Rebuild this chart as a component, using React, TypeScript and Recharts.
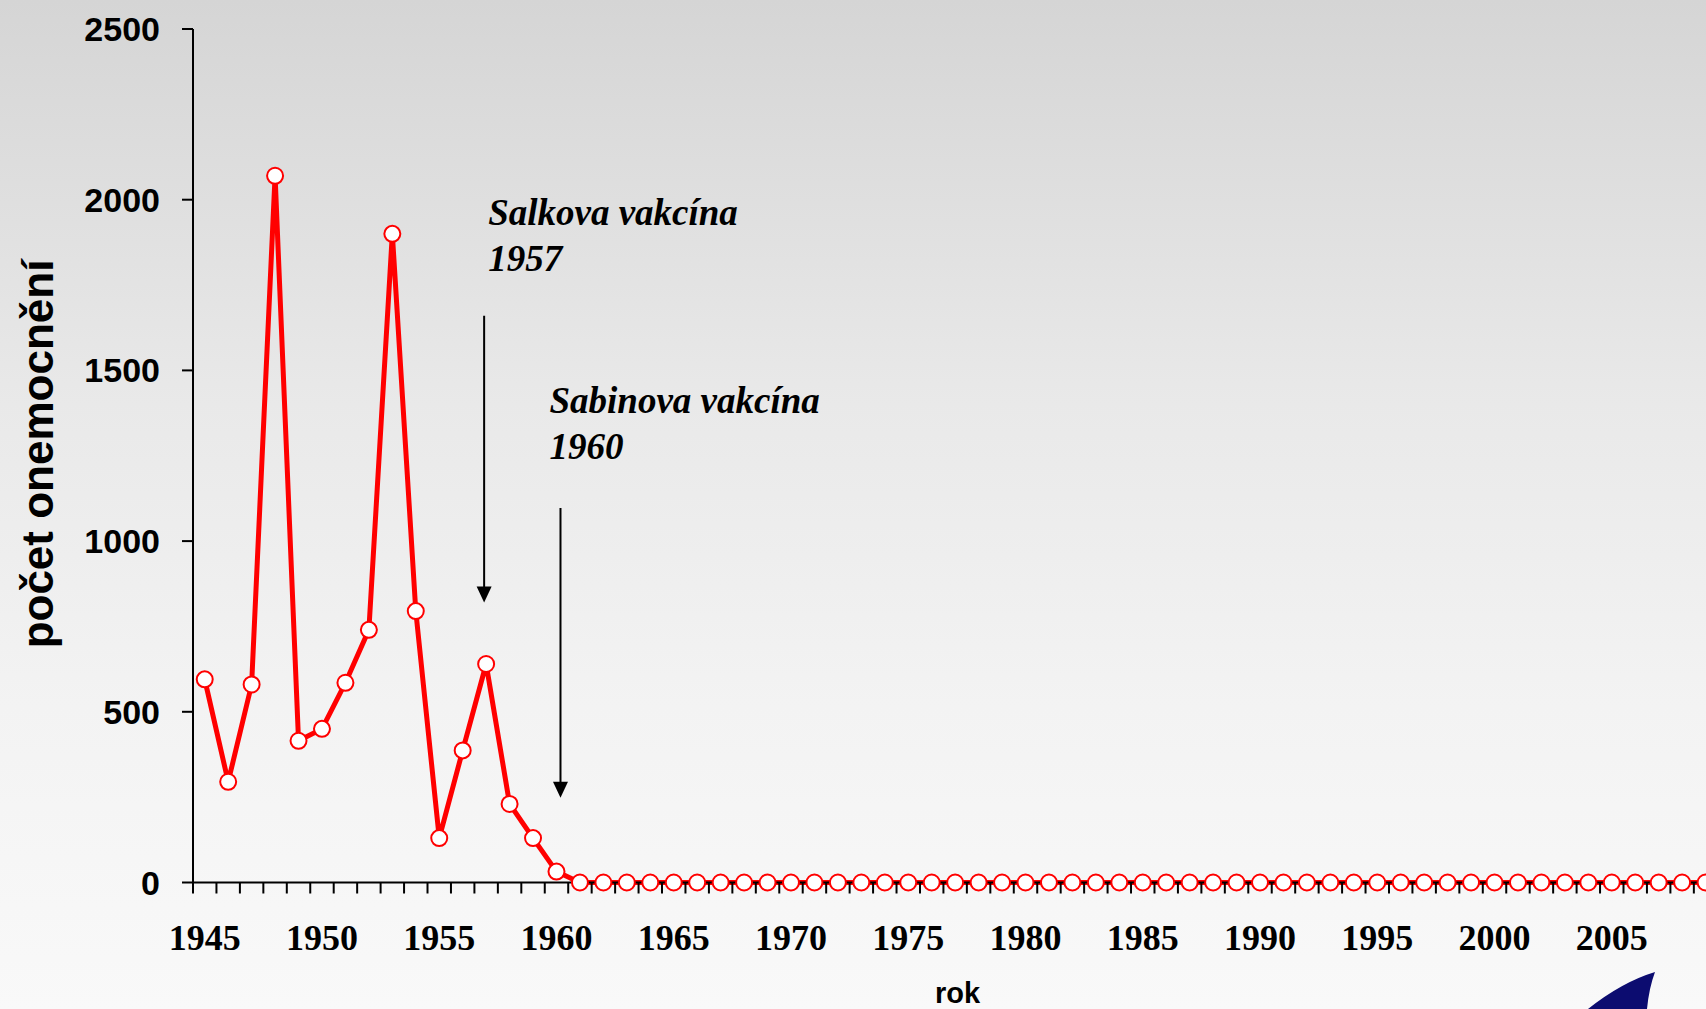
import { LineChart, Line, XAxis, YAxis, ReferenceLine } from "recharts";

const years = [
  1945, 1946, 1947, 1948, 1949, 1950, 1951, 1952, 1953, 1954, 1955, 1956, 1957,
  1958, 1959, 1960, 1961, 1962, 1963, 1964, 1965, 1966, 1967, 1968, 1969, 1970,
  1971, 1972, 1973, 1974, 1975, 1976, 1977, 1978, 1979, 1980, 1981, 1982, 1983,
  1984, 1985, 1986, 1987, 1988, 1989, 1990, 1991, 1992, 1993, 1994, 1995, 1996,
  1997, 1998, 1999, 2000, 2001, 2002, 2003, 2004, 2005, 2006, 2007, 2008, 2009,
];

const cases = [
  595, 295, 580, 2070, 415, 450, 585, 740, 1900, 795, 130, 387, 640,
  230, 130, 32, 0, 0, 0, 0, 0, 0, 0, 0, 0, 0,
  0, 0, 0, 0, 0, 0, 0, 0, 0, 0, 0, 0, 0,
  0, 0, 0, 0, 0, 0, 0, 0, 0, 0, 0, 0, 0,
  0, 0, 0, 0, 0, 0, 0, 0, 0, 0, 0, 0, 0,
];

const yTicks = [0, 500, 1000, 1500, 2000, 2500];
const labelYears = [1945, 1950, 1955, 1960, 1965, 1970, 1975, 1980, 1985, 1990, 1995, 2000, 2005];

// arrows from / to are in case counts, text offsets in px from the arrow top
const vaccines = [
  { year: 1957, lines: ["Salkova vakcína", "1957"], from: 1660, to: 820, dx: -2, textDx: 2, textDy: -91 },
  { year: 1960, lines: ["Sabinova vakcína", "1960"], from: 1097, to: 248, dx: 4, textDx: -7, textDy: -95 },
];

const data = years.map((year, i) => ({ year, cases: cases[i] }));

// tick marks sit between the years, labels sit on the year itself
const xTicks = [...years.map((y) => y - 0.5), years[years.length - 1] + 0.5, ...labelYears];

const sans = '"Liberation Sans", Arial, sans-serif';
const serif = '"Liberation Serif", "Times New Roman", serif';

function YearTick({ x, y, payload }: any) {
  const v = payload.value;
  if (v % 1 !== 0) {
    return <line x1={x} y1={y} x2={x} y2={y + 11} stroke="#000" strokeWidth={2} />;
  }
  return (
    <text x={x} y={y + 67.5} textAnchor="middle" fontFamily={serif} fontWeight="bold" fontSize={36} fill="#000">
      {v}
    </text>
  );
}

function CountTick({ x, y, payload }: any) {
  return (
    <text x={x} y={y + 12} textAnchor="end" fontFamily={sans} fontWeight="bold" fontSize={34} fill="#000">
      {payload.value}
    </text>
  );
}

function arrowShape(v: (typeof vaccines)[number]) {
  return (p: any) => {
    const x = p.x1 + v.dx;
    const y1 = Math.min(p.y1, p.y2);
    const y2 = Math.max(p.y1, p.y2);
    return (
      <g>
        <line x1={x} y1={y1} x2={x} y2={y2 - 15} stroke="#000" strokeWidth={2} />
        <polygon points={`${x - 7.5},${y2 - 16} ${x + 7.5},${y2 - 16} ${x},${y2}`} fill="#000" />
        {v.lines.map((t, i) => (
          <text
            key={t}
            x={p.x1 + v.textDx}
            y={y1 + v.textDy + i * 46}
            fontFamily={serif}
            fontStyle="italic"
            fontWeight="bold"
            fontSize={37}
            fill="#000"
          >
            {t}
          </text>
        ))}
      </g>
    );
  };
}

export default function App() {
  return (
    <div
      style={{
        position: "absolute",
        left: 0,
        top: 0,
        width: 1706,
        height: 1009,
        overflow: "hidden",
        background: "linear-gradient(#d5d5d5 0%, #e9e9e9 40%, #f3f3f3 70%, #f9f9f9 100%)",
      }}
    >
      <LineChart
        width={1740}
        height={1009}
        data={data}
        margin={{ top: 29, right: 22.7, bottom: 66.5, left: 0 }}
      >
        <XAxis
          dataKey="year"
          type="number"
          domain={[1944.5, 2009.5]}
          ticks={xTicks}
          interval={0}
          tick={<YearTick />}
          tickLine={false}
          tickSize={0}
          tickMargin={0}
          height={60}
          axisLine={{ stroke: "#000", strokeWidth: 2 }}
        />
        <YAxis
          domain={[0, 2500]}
          ticks={yTicks}
          width={193}
          tick={<CountTick />}
          tickSize={11}
          tickMargin={22}
          tickLine={{ stroke: "#000", strokeWidth: 2 }}
          axisLine={{ stroke: "#000", strokeWidth: 2 }}
        />
        {vaccines.map((v) => (
          <ReferenceLine
            key={v.year}
            segment={[
              { x: v.year, y: v.from },
              { x: v.year, y: v.to },
            ]}
            shape={arrowShape(v)}
          />
        ))}
        <Line
          type="linear"
          dataKey="cases"
          stroke="#ff0000"
          strokeWidth={5}
          dot={{ r: 8, stroke: "#ff0000", strokeWidth: 2, fill: "#ffffff" }}
          activeDot={false}
          isAnimationActive={false}
        />
      </LineChart>
      <svg width={1706} height={1009} style={{ position: "absolute", left: 0, top: 0, pointerEvents: "none" }}>
        <text
          x={53}
          y={454}
          transform="rotate(-90 53 454)"
          textAnchor="middle"
          fontFamily={sans}
          fontWeight="bold"
          fontSize={44}
          fill="#000"
        >
          počet onemocnění
        </text>
        <text x={957.5} y={1003} textAnchor="middle" fontFamily={sans} fontWeight="bold" fontSize={29} fill="#000">
          rok
        </text>
        <path d="M1655,972 Q1622,982 1588,1009 L1647,1009 Q1649,988 1655,972 Z" fill="#0c0c70" />
      </svg>
    </div>
  );
}
